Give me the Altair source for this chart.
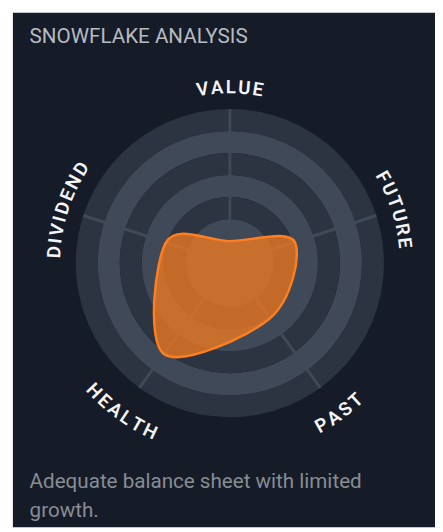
import math
import altair as alt
import pandas as pd

# ---------------- data ----------------
axes = ["VALUE", "FUTURE", "PAST", "HEALTH", "DIVIDEND"]
axis_angle = [0, 72, 144, 216, 288]          # degrees clockwise from top
score = [1.0, 3.1, 3.1, 5.1, 3.05]           # radial value on the 0-7 grid

ring_outer = [7, 6, 5, 4, 3, 2]
ring_inner = [6, 5, 4, 3, 2, 0]
ring_tone = ["dark", "light", "dark", "light", "dark", "light"]

spoke_from = [2, 2, 2, 2, 2]
spoke_to = [7, 7, 7, 7, 7]

title_text = "SNOWFLAKE ANALYSIS"
summary_text = "Adequate balance sheet with limited\ngrowth."

# ---------------- layout / style ----------------
W, H = 430, 524
CX, CY = 221, 255
R_PX = 157
GRID_MAX = 7
K = R_PX / GRID_MAX

BG = "#161c27"
DARK = "#2c3441"
LIGHT = "#404957"

xs = alt.Scale(domain=[-CX / K, (W - CX) / K], nice=False, zero=False)
ys = alt.Scale(domain=[-(H - CY) / K, CY / K], nice=False, zero=False)

# rings
rings_df = pd.DataFrame({"ro": ring_outer, "ri": ring_inner, "tone": ring_tone})
rings = alt.Chart(rings_df).transform_calculate(cx="0", cy="0").mark_arc(
    theta=0, theta2=2 * math.pi
).encode(
    x=alt.X("cx:Q", scale=xs, axis=None),
    y=alt.Y("cy:Q", scale=ys, axis=None),
    radius=alt.Radius("ro:Q", scale=alt.Scale(type="linear", domain=[0, GRID_MAX], range=[0, R_PX])),
    radius2=alt.Radius2("ri:Q"),
    color=alt.Color("tone:N", scale=alt.Scale(domain=["dark", "light"], range=[DARK, LIGHT]), legend=None),
)

# spokes
spokes_df = pd.DataFrame({"ang": axis_angle, "r0": spoke_from, "r1": spoke_to})
spokes = alt.Chart(spokes_df).transform_calculate(
    x0="datum.r0*sin(datum.ang*PI/180)",
    y0="datum.r0*cos(datum.ang*PI/180)",
    x1="datum.r1*sin(datum.ang*PI/180)",
    y1="datum.r1*cos(datum.ang*PI/180)",
).mark_rule(color=LIGHT, strokeWidth=3).encode(
    x=alt.X("x0:Q", scale=xs, axis=None),
    y=alt.Y("y0:Q", scale=ys, axis=None),
    x2="x1:Q",
    y2="y1:Q",
)

# blob
blob_df = pd.DataFrame({"axis": axes, "ang": axis_angle, "score": score, "idx": list(range(len(axes)))})
blob = alt.Chart(blob_df).transform_calculate(
    bx="datum.score*sin(datum.ang*PI/180)",
    by="datum.score*cos(datum.ang*PI/180)",
).mark_line(
    interpolate="cardinal-closed",
    fill="#f07a22",
    fillOpacity=0.78,
    stroke="#ff7f1e",
    strokeWidth=2.5,
).encode(
    x=alt.X("bx:Q", scale=xs, axis=None),
    y=alt.Y("by:Q", scale=ys, axis=None),
    order="idx:O",
)

# curved axis labels (one text mark per letter)
CHAR_EM = {"A": 0.66, "D": 0.67, "E": 0.56, "F": 0.55, "H": 0.71, "I": 0.28, "L": 0.54,
           "N": 0.71, "P": 0.63, "R": 0.62, "S": 0.60, "T": 0.60, "U": 0.65, "V": 0.65}
FS = 19
LS = 2.5
rows = []
for name, ang in zip(axes, axis_angle):
    bottom = 90 < ang < 270
    r_txt = 190 if bottom else 179
    adv = [CHAR_EM[c] * FS for c in name]
    total = sum(adv) + LS * (len(name) - 1)
    pos = -total / 2
    for c, a in zip(name, adv):
        s = pos + a / 2
        pos += a + LS
        d = math.degrees(s / r_txt)
        phi = ang - d if bottom else ang + d
        rows.append(dict(
            ch=c,
            x=r_txt / K * math.sin(math.radians(phi)),
            y=r_txt / K * math.cos(math.radians(phi)),
            rot=((phi - 180) if bottom else phi) % 360,
        ))
letters = alt.Chart(pd.DataFrame(rows)).mark_text(
    font="Roboto", fontSize=FS, fontWeight=600, color="#f4f5f7", baseline="middle", align="center"
).encode(
    x=alt.X("x:Q", scale=xs, axis=None),
    y=alt.Y("y:Q", scale=ys, axis=None),
    text="ch:N",
    angle=alt.Angle("rot:Q", scale=None),
)

title = alt.Chart(pd.DataFrame({"t": [title_text]})).mark_text(
    font="Roboto", fontSize=21, color="#b6bbc3", align="left", baseline="alphabetic"
).encode(x=alt.value(17), y=alt.value(31), text="t:N")

summary = alt.Chart(pd.DataFrame({"t": [summary_text]})).mark_text(
    font="Roboto", fontSize=21, color="#878c95", align="left", baseline="alphabetic",
    lineBreak="\n", lineHeight=30,
).encode(x=alt.value(17), y=alt.value(484), text="t:N")

chart = alt.layer(rings, spokes, blob, letters, title, summary).properties(
    width=W, height=H,
    autosize=alt.AutoSizeParams(type="none"),
    padding={"left": 5, "top": 0, "right": 0, "bottom": 0},
    background="white",
).configure_view(fill=BG, stroke=None)

chart.save("out.html", embed_options={"renderer": "svg", "actions": False})
